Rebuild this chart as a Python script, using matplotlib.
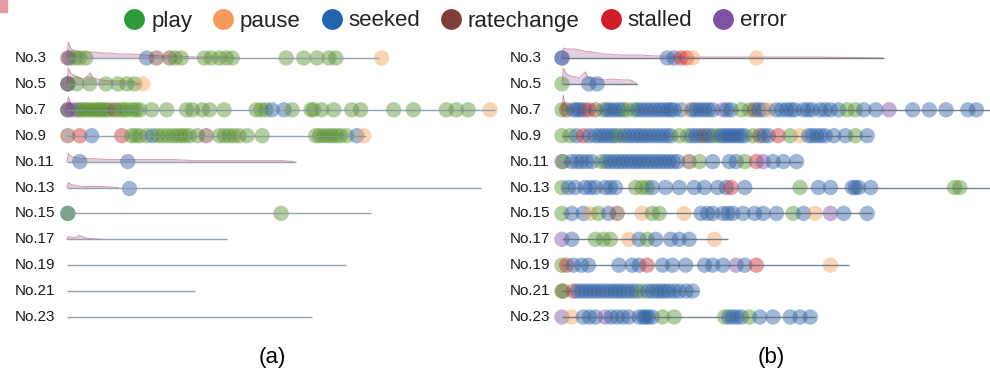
import matplotlib
matplotlib.use("Agg")
import matplotlib.pyplot as plt
from matplotlib.lines import Line2D
from matplotlib.patches import Rectangle

plt.rcParams['font.family'] = ['Liberation Sans', 'DejaVu Sans']

# ---- event palette -------------------------------------------------------
EVENT_NAMES = ["play", "pause", "seeked", "ratechange", "stalled", "error"]
EVENT_CODES = {"P": "play", "U": "pause", "S": "seeked",
               "R": "ratechange", "T": "stalled", "E": "error"}
LEGEND_COLORS = {"play": "#2e9a3a", "pause": "#f6995a", "seeked": "#2166ac",
                 "ratechange": "#7f3f36", "stalled": "#d01c2a", "error": "#7f52a6"}
MARK_COLORS = {"play": "#55902a", "pause": "#f5a35c", "seeked": "#2a5fa6",
               "ratechange": "#74402e", "stalled": "#cf2a2a", "error": "#7c4fa8"}

ROW_LABELS = ["No.3", "No.5", "No.7", "No.9", "No.11", "No.13",
              "No.15", "No.17", "No.19", "No.21", "No.23"]

# ---- panel (a): session length (percent of longest) ----------------------
A_LENGTH = [72.8, 17.0, 100.0, 69.8, 53.5, 96.7, 70.9, 37.4, 65.1, 29.8, 57.2]

A_NO3 = [(0.2, "R"), (0.6, "E"), (1.9, "P"), (3.0, "P"), (4.4, "P"), (18.6, "S"),
         (20.9, "R"), (24.0, "R"), (25.3, "P"), (26.7, "P"), (32.1, "P"),
         (33.7, "P"), (35.6, "P"), (37.2, "P"), (38.6, "P"), (51.2, "P"),
         (55.3, "P"), (58.4, "P"), (61.2, "P"), (62.8, "P"), (73.5, "U")]
A_NO5 = [(0.2, "S"), (0.2, "R"), (2.3, "P"), (5.3, "P"), (9.1, "P"),
         (11.9, "P"), (14.0, "P"), (15.8, "P"), (17.7, "U")]
A_NO7 = [(0.2, "S"), (0.2, "R"), (1.2, "E"), (2.3, "E"), (3.0, "P"), (3.7, "P"),
         (4.5, "P"), (5.3, "P"), (6.2, "P"), (7.0, "P"), (7.7, "P"), (8.4, "P"),
         (9.2, "P"), (10.0, "P"), (11.2, "R"), (12.3, "P"), (13.2, "P"),
         (14.0, "P"), (15.3, "P"), (16.2, "P"), (17.0, "P"), (19.8, "P"),
         (23.3, "P"), (27.9, "P"), (29.3, "P"), (31.6, "P"), (33.3, "P"),
         (36.7, "P"), (44.2, "P"), (45.3, "P"), (46.5, "P"), (47.9, "S"),
         (50.7, "S"), (52.6, "P"), (57.0, "P"), (57.6, "P"), (59.5, "P"),
         (62.3, "P"), (66.5, "P"), (68.6, "P"), (76.3, "P"), (80.9, "P"),
         (88.6, "P"), (90.9, "P"), (93.7, "P"), (98.8, "U")]
A_NO9 = [(0.2, "R"), (3.0, "T"), (5.8, "S"), (12.8, "T"), (15.1, "P"),
         (16.0, "P"), (17.0, "P"), (18.6, "P"), (20.0, "S"), (21.2, "P"),
         (22.3, "P"), (23.5, "P"), (24.7, "P"), (25.7, "P"), (26.7, "P"),
         (27.6, "P"), (28.6, "P"), (30.5, "P"), (32.5, "R"), (35.6, "P"),
         (36.8, "P"), (37.9, "P"), (39.0, "P"), (40.2, "P"), (42.1, "P"),
         (45.6, "P"), (58.1, "P"), (59.0, "P"), (60.0, "P"), (61.0, "P"),
         (61.9, "P"), (62.9, "P"), (63.9, "P"), (65.3, "P"), (67.7, "S"),
         (69.3, "U")]
A_NO11 = [(3.0, "S"), (14.2, "S")]
A_NO13 = [(14.4, "S")]
A_NO15 = [(0.2, "S"), (0.2, "P"), (50.0, "P")]
A_NO17 = []
A_NO19 = []
A_NO21 = []
A_NO23 = []

# ---- panel (b) -----------------------------------------------------------
B_LENGTH = [75.2, 17.6, 100.7, 72.1, 56.0, 99.9, 72.5, 38.7, 67.0, 31.7, 59.1]

B_NO3 = [(0.0, "E"), (0.0, "S"), (24.6, "S"), (26.2, "S"), (27.8, "T"),
         (29.1, "T"), (30.5, "U"), (45.4, "U")]
B_NO5 = [(0.0, "P"), (6.3, "S"), (8.2, "S")]
B_NO7 = [(0.0, "P"), (1.1, "R"), (2.7, "S"), (3.5, "S"), (4.2, "S"), (5.2, "S"),
         (6.2, "T"), (7.8, "R"), (9.7, "P"), (10.5, "S"), (11.3, "S"),
         (12.3, "S"), (13.3, "S"), (14.2, "S"), (15.2, "P"), (16.8, "P"),
         (17.7, "S"), (18.7, "S"), (19.7, "S"), (20.7, "S"), (21.7, "S"),
         (22.7, "S"), (23.6, "S"), (24.6, "S"), (25.4, "S"), (26.2, "S"),
         (27.8, "S"), (29.7, "U"), (30.5, "S"), (31.3, "S"), (32.3, "S"),
         (33.3, "S"), (34.2, "S"), (35.2, "S"), (37.6, "E"), (38.5, "S"),
         (39.5, "S"), (41.9, "P"), (43.8, "P"), (45.0, "R"), (46.0, "S"),
         (47.0, "S"), (48.2, "U"), (50.1, "S"), (51.3, "S"), (52.5, "S"),
         (53.5, "S"), (54.4, "S"), (56.4, "S"), (57.4, "S"), (58.4, "S"),
         (60.3, "S"), (61.5, "S"), (62.7, "S"), (64.6, "S"), (66.6, "P"),
         (68.5, "P"), (70.5, "S"), (73.3, "S"), (76.4, "E"), (81.9, "S"),
         (85.8, "S"), (89.7, "S"), (94.8, "S"), (96.8, "S")]
B_NO9 = [(0.0, "P"), (1.9, "P"), (3.4, "S"), (5.0, "T"), (6.4, "S"), (7.8, "S"),
         (8.8, "S"), (9.7, "S"), (10.7, "S"), (11.7, "S"), (12.6, "S"),
         (13.6, "P"), (14.6, "S"), (15.6, "S"), (16.6, "S"), (17.6, "S"),
         (18.5, "S"), (19.5, "S"), (20.5, "S"), (21.5, "S"), (22.5, "S"),
         (23.5, "S"), (24.5, "S"), (25.4, "S"), (27.4, "P"), (29.3, "P"),
         (30.3, "S"), (31.3, "S"), (32.3, "S"), (33.3, "R"), (34.2, "S"),
         (35.2, "S"), (36.4, "P"), (37.2, "S"), (38.0, "S"), (38.8, "S"),
         (39.5, "S"), (40.3, "S"), (41.1, "S"), (41.9, "S"), (42.7, "S"),
         (44.6, "P"), (46.2, "R"), (47.2, "S"), (48.2, "S"), (50.5, "T"),
         (53.3, "P"), (55.6, "U"), (57.6, "S"), (58.5, "S"), (59.5, "S"),
         (60.5, "S"), (61.5, "S"), (63.5, "S"), (66.2, "S"), (68.5, "P"),
         (71.3, "S")]
B_NO11 = [(0.0, "E"), (0.3, "P"), (2.3, "S"), (3.5, "S"), (4.6, "S"), (5.8, "S"),
          (7.0, "S"), (9.3, "P"), (10.3, "S"), (11.3, "S"), (12.3, "S"),
          (13.3, "S"), (14.2, "S"), (15.2, "S"), (16.2, "S"), (17.2, "S"),
          (18.1, "S"), (19.1, "S"), (20.1, "S"), (21.1, "S"), (22.1, "S"),
          (23.1, "S"), (24.0, "S"), (25.0, "S"), (26.0, "S"), (27.0, "S"),
          (29.7, "R"), (32.1, "P"), (35.2, "S"), (39.1, "S"), (40.7, "S"),
          (42.7, "P"), (45.4, "T"), (47.0, "E"), (49.3, "S"), (51.7, "S"),
          (54.8, "S")]
B_NO13 = [(0.0, "P"), (1.5, "S"), (3.1, "S"), (5.4, "S"), (6.6, "S"), (7.8, "S"),
          (10.1, "S"), (11.3, "S"), (12.5, "S"), (17.2, "P"), (18.7, "P"),
          (19.9, "P"), (21.1, "S"), (24.2, "S"), (27.4, "S"), (30.9, "S"),
          (33.3, "S"), (36.4, "S"), (38.4, "S"), (39.5, "T"), (42.7, "S"),
          (55.6, "P"), (59.9, "S"), (62.7, "S"), (67.8, "S"), (68.5, "S"),
          (69.3, "S"), (72.1, "S"), (91.7, "P"), (92.9, "P")]
B_NO15 = [(0.0, "P"), (2.3, "S"), (5.0, "S"), (6.6, "U"), (8.5, "P"),
          (10.9, "S"), (12.9, "R"), (18.7, "U"), (21.1, "P"), (22.7, "P"),
          (28.5, "U"), (32.5, "S"), (34.0, "S"), (35.2, "S"), (37.6, "S"),
          (38.8, "S"), (39.9, "S"), (42.3, "S"), (45.0, "S"), (47.0, "S"),
          (50.1, "S"), (54.0, "P"), (56.4, "S"), (59.1, "U"), (62.7, "E"),
          (65.8, "S"), (71.3, "S")]
B_NO17 = [(0.0, "E"), (2.3, "S"), (7.8, "P"), (9.7, "P"), (11.3, "P"),
          (15.6, "U"), (18.0, "S"), (19.9, "P"), (21.9, "S"), (25.4, "S"),
          (27.4, "S"), (29.7, "S"), (35.6, "U")]
B_NO19 = [(0.0, "P"), (1.1, "T"), (2.7, "S"), (4.6, "S"), (6.2, "S"),
          (13.3, "S"), (16.4, "S"), (18.0, "S"), (19.9, "T"), (23.5, "S"),
          (25.8, "S"), (28.9, "S"), (33.3, "S"), (35.2, "S"), (37.6, "S"),
          (40.7, "E"), (42.7, "S"), (45.4, "T"), (62.7, "U")]
B_NO21 = [(0.0, "R"), (0.3, "P"), (2.7, "T"), (3.6, "S"), (4.6, "S"), (5.6, "S"),
          (6.6, "S"), (7.5, "S"), (8.5, "S"), (9.5, "S"), (10.5, "S"),
          (11.5, "S"), (12.5, "S"), (13.4, "S"), (14.4, "S"), (15.4, "S"),
          (16.4, "S"), (17.5, "S"), (18.7, "P"), (20.0, "S"), (21.1, "S"),
          (22.1, "S"), (23.1, "S"), (24.0, "S"), (25.0, "S"), (26.2, "S"),
          (27.4, "S"), (29.0, "S"), (30.5, "S")]
B_NO23 = [(0.0, "E"), (2.3, "U"), (5.0, "S"), (6.4, "S"), (7.8, "S"),
          (10.1, "E"), (11.5, "S"), (12.9, "S"), (14.2, "S"), (15.6, "S"),
          (18.0, "S"), (19.0, "S"), (19.5, "S"), (20.2, "S"), (21.1, "S"),
          (23.5, "P"), (26.2, "P"), (38.0, "P"), (39.0, "S"), (39.9, "S"),
          (40.9, "S"), (41.9, "S"), (43.8, "P"), (46.2, "S"), (49.3, "S"),
          (53.3, "S"), (55.6, "S"), (58.0, "S")]

# ---- early-session activity traces: (time, level in px-like units) -------
A_TRACE_NO3 = [(0, 0), (0.3, 16), (1, 9), (2, 7), (4, 6), (6, 6), (8, 5), (10, 5),
               (12, 4), (15, 4), (18, 3), (22, 2), (26, 2), (30, 1), (35, 1), (40, 0)]
A_TRACE_NO5 = [(0, 0), (0.3, 16), (1, 10), (2, 8), (3, 6), (4, 5), (5, 9), (5.5, 11),
               (6, 6), (8, 4), (10, 3), (12, 3), (14, 3), (16, 2), (17, 0)]
A_TRACE_NO7 = [(0, 0), (0.3, 13), (1, 5), (2, 3), (4, 2), (8, 1), (12, 0)]
A_TRACE_NO11 = [(0, 0), (0.3, 8), (1, 5), (2, 4), (4, 3), (6, 3), (10, 2), (15, 2),
                (20, 2), (25, 2), (30, 1), (40, 1), (50, 1), (53, 0)]
A_TRACE_NO13 = [(0, 0), (0.3, 5), (1, 3), (2, 2), (4, 1), (8, 1), (12, 0)]
A_TRACE_NO17 = [(0, 0), (0.3, 3), (1, 2), (2, 2), (3, 4), (4, 2), (5, 1), (8, 0)]
B_TRACE_NO3 = [(0, 0), (0.3, 10), (1, 9), (3, 9), (5, 7), (7, 6), (10, 4), (14, 3),
               (18, 3), (22, 2), (26, 2), (30, 1), (40, 1), (50, 1), (60, 1), (75, 0)]
B_TRACE_NO5 = [(0, 0), (0.3, 16), (1, 10), (2, 8), (3, 7), (4, 6), (5, 10), (5.5, 12),
               (6, 7), (8, 5), (10, 4), (12, 5), (14, 4), (16, 4), (17.6, 0)]
B_TRACE_NO7 = [(0, 0), (0.3, 15), (0.8, 3), (2, 1), (4, 0)]

A_EVENTS = [A_NO3, A_NO5, A_NO7, A_NO9, A_NO11, A_NO13, A_NO15,
            A_NO17, A_NO19, A_NO21, A_NO23]
B_EVENTS = [B_NO3, B_NO5, B_NO7, B_NO9, B_NO11, B_NO13, B_NO15,
            B_NO17, B_NO19, B_NO21, B_NO23]
A_TRACES = {0: A_TRACE_NO3, 1: A_TRACE_NO5, 2: A_TRACE_NO7,
            4: A_TRACE_NO11, 5: A_TRACE_NO13, 7: A_TRACE_NO17}
B_TRACES = {0: B_TRACE_NO3, 1: B_TRACE_NO5, 2: B_TRACE_NO7}

ROW_PX = 25.9          # pixel spacing between rows
TRACE_SCALE = 1.0 / ROW_PX


def draw_panel(ax, lengths, events, traces, line_color):
    for i, label in enumerate(ROW_LABELS):
        ax.text(-12.1, i, label, ha="left", va="center", fontsize=11,
                color="#1a1a1a", clip_on=False)
        if i in traces:
            tx = [p[0] for p in traces[i]]
            ty = [i - p[1] * TRACE_SCALE for p in traces[i]]
            ax.fill_between(tx, i, ty, color="#b88ab5", alpha=0.4,
                            lw=0, zorder=2)
            ax.plot(tx, ty, color="#c9566a", lw=0.7, alpha=0.6, zorder=2)
        xs = [e[0] for e in events[i]]
        cs = [MARK_COLORS[EVENT_CODES[e[1]]] for e in events[i]]
        if xs:
            ax.scatter(xs, [i] * len(xs), s=122, c=cs, alpha=0.45,
                       linewidths=0, zorder=3)
        ax.plot([0, lengths[i]], [i, i], color=line_color, lw=1.0,
                alpha=0.85, zorder=4, solid_capstyle="butt")
    ax.set_xlim(-13.3, 102.3)
    ax.set_ylim(10.695, -0.695)
    ax.axis("off")


fig = plt.figure(figsize=(9.9, 3.76), dpi=100)
W, H = 990.0, 376.0
bottom = 1 - 335 / H
height = 295 / H
ax_a = fig.add_axes([10 / W, bottom, 495 / W, height])
ax_b = fig.add_axes([505 / W, bottom, 495 / W, height])
draw_panel(ax_a, A_LENGTH, A_EVENTS, A_TRACES, "#8495a5")
draw_panel(ax_b, B_LENGTH, B_EVENTS, B_TRACES, "#5d6d7c")

fig.text(272 / W, 1 - 357 / H, "(a)", ha="center", va="center", fontsize=16)
fig.text(771 / W, 1 - 357 / H, "(b)", ha="center", va="center", fontsize=16)

handles = [Line2D([], [], marker="o", ls="", markersize=15,
                  markerfacecolor=LEGEND_COLORS[n], markeredgewidth=0,
                  label=n) for n in EVENT_NAMES]
fig.legend(handles=handles, loc="center", ncol=6, frameon=False,
           bbox_to_anchor=(455 / W, 1 - 21 / H), fontsize=16,
           handlelength=1.0, handletextpad=0.25, columnspacing=0.9,
           borderpad=0, labelcolor="#222222")

fig.patches.append(Rectangle((0, 1 - 12 / H), 7 / W, 12 / H,
                             transform=fig.transFigure, color="#e79aa0",
                             zorder=0))

fig.savefig("out.png", dpi=100)
